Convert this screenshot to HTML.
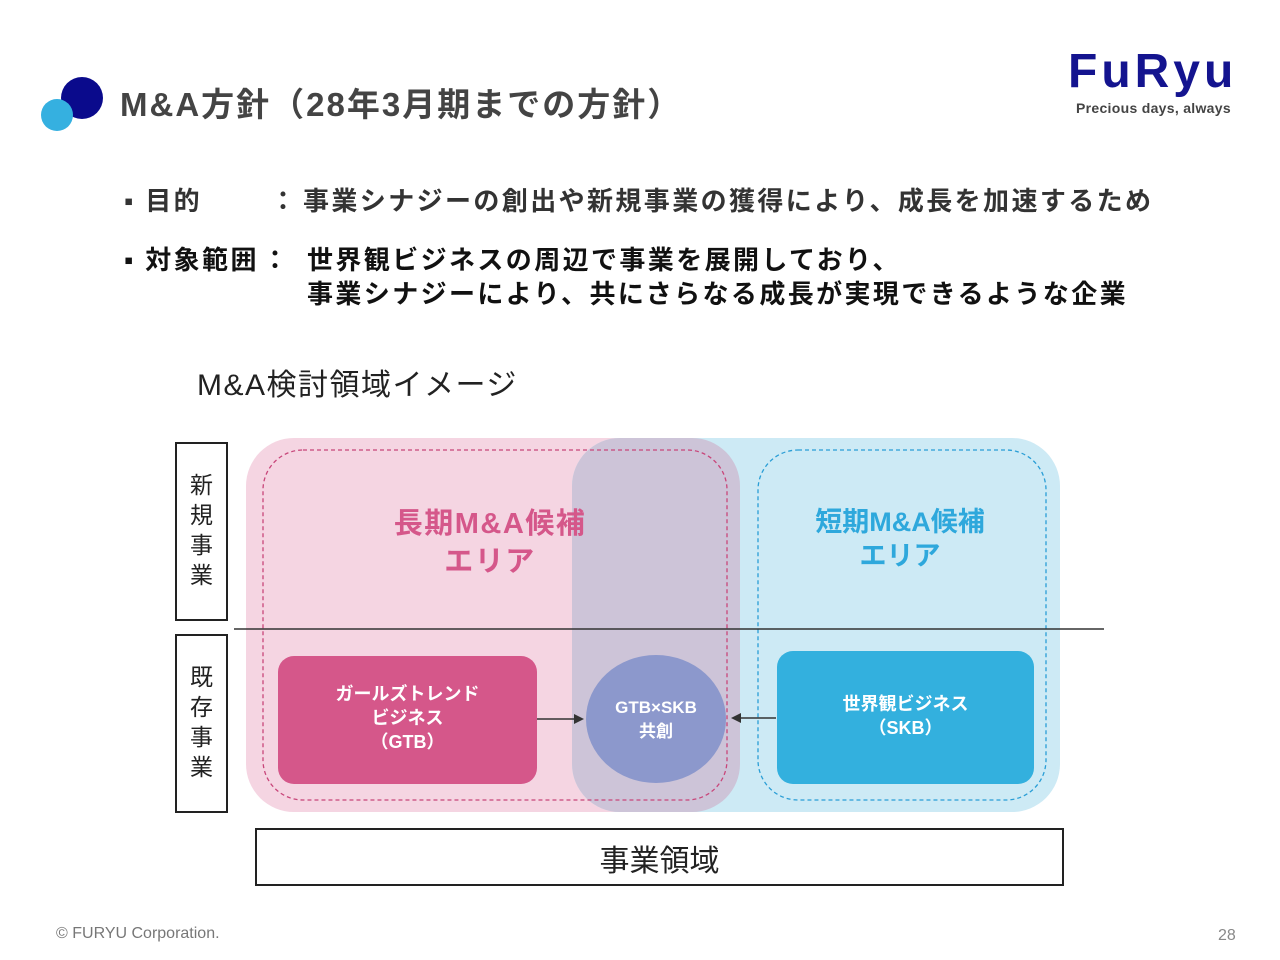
<!DOCTYPE html>
<html><head><meta charset="utf-8"><style>
body{margin:0;width:1280px;height:960px;background:#fff;position:relative;overflow:hidden;font-family:"Liberation Sans","Noto Sans CJK JP",sans-serif}
.a{position:absolute;white-space:nowrap}
.b{font-size:26px;font-weight:bold;letter-spacing:2.4px;line-height:34px}
</style></head><body>
<svg class="a" style="left:0;top:0" width="1280" height="960">
<circle cx="82" cy="98" r="21" fill="#0a0a8c"/>
<circle cx="57" cy="115" r="16" fill="#35b0e0"/>
<defs><clipPath id="pc"><rect x="246" y="438" width="494" height="374" rx="48"/></clipPath></defs>
<rect x="246" y="438" width="494" height="374" rx="48" fill="#f5d5e2"/>
<rect x="572" y="438" width="488" height="374" rx="48" fill="#cdeaf5"/>
<rect x="572" y="438" width="488" height="374" rx="48" fill="#cdc4d8" clip-path="url(#pc)"/>
<rect x="263" y="450" width="464" height="350" rx="40" fill="none" stroke="#c8467a" stroke-width="1.3" stroke-dasharray="4,3"/>
<rect x="758" y="450" width="288" height="350" rx="40" fill="none" stroke="#2a9ed6" stroke-width="1.3" stroke-dasharray="4,3"/>
<line x1="234" y1="629" x2="1104" y2="629" stroke="#333" stroke-width="1.5"/>
<rect x="278" y="656" width="259" height="128" rx="16" fill="#d5578a"/>
<rect x="777" y="651" width="257" height="133" rx="16" fill="#33b0de"/>
<ellipse cx="656" cy="719" rx="70" ry="64" fill="#8c98cc"/>
<line x1="537" y1="719" x2="576" y2="719" stroke="#333" stroke-width="1.5"/>
<polygon points="584,719 574,714 574,724" fill="#333"/>
<line x1="776" y1="718" x2="740" y2="718" stroke="#333" stroke-width="1.5"/>
<polygon points="731,718 741,713 741,723" fill="#333"/>
<rect x="176" y="443" width="51" height="177" fill="none" stroke="#222" stroke-width="2"/>
<rect x="176" y="635" width="51" height="177" fill="none" stroke="#222" stroke-width="2"/>
<rect x="256" y="829" width="807" height="56" fill="none" stroke="#222" stroke-width="2"/>
</svg>
<div class="a" style="left:120px;top:78px;font-size:33px;font-weight:bold;color:#444;letter-spacing:2px">M&amp;A方針（28年3月期までの方針）</div>
<div class="a" style="left:1068px;top:44px;font-size:48px;font-weight:bold;color:#14148f;letter-spacing:4px;line-height:56px">FuRyu</div>
<div class="a" style="left:1076px;top:100px;font-size:14px;font-weight:bold;color:#444;letter-spacing:0.3px">Precious days, always</div>
<div class="a b" style="left:124px;top:184px;color:#333">▪ 目的</div>
<div class="a b" style="left:270px;top:184px;color:#333">：</div>
<div class="a b" style="left:303px;top:184px;color:#333">事業シナジーの創出や新規事業の獲得により、成長を加速するため</div>
<div class="a b" style="left:124px;top:243px;color:#111">▪ 対象範囲</div>
<div class="a b" style="left:262px;top:243px;color:#111">：</div>
<div class="a b" style="left:307px;top:243px;color:#111">世界観ビジネスの周辺で事業を展開しており、<br>事業シナジーにより、共にさらなる成長が実現できるような企業</div>
<div class="a" style="left:197px;top:360px;font-size:30px;color:#222;letter-spacing:1.5px">M&amp;A検討領域イメージ</div>
<div class="a" style="left:370px;top:505px;width:240px;text-align:center;font-size:29px;font-weight:bold;color:#d5578a;line-height:38px;letter-spacing:1.5px">長期M&amp;A候補<br>エリア</div>
<div class="a" style="left:800px;top:505px;width:200px;text-align:center;font-size:27px;font-weight:bold;color:#2ea8dc;line-height:34px">短期M&amp;A候補<br>エリア</div>
<div class="a" style="left:278px;top:682px;width:259px;text-align:center;font-size:18px;font-weight:bold;color:#fff;line-height:24px">ガールズトレンド<br>ビジネス<br>（GTB）</div>
<div class="a" style="left:586px;top:696px;width:140px;text-align:center;font-size:17px;font-weight:bold;color:#fff;line-height:24px">GTB×SKB<br>共創</div>
<div class="a" style="left:777px;top:692px;width:257px;text-align:center;font-size:18px;font-weight:bold;color:#fff;line-height:24px">世界観ビジネス<br>（SKB）</div>
<div class="a" style="left:176px;top:470px;width:51px;text-align:center;font-size:23px;color:#222;line-height:30px">新<br>規<br>事<br>業</div>
<div class="a" style="left:176px;top:662px;width:51px;text-align:center;font-size:23px;color:#222;line-height:30px">既<br>存<br>事<br>業</div>
<div class="a" style="left:256px;top:836px;width:807px;text-align:center;font-size:30px;color:#222">事業領域</div>
<div class="a" style="left:56px;top:925px;font-size:16px;color:#777">© FURYU Corporation.</div>
<div class="a" style="left:1218px;top:927px;font-size:16px;color:#888">28</div>
</body></html>
